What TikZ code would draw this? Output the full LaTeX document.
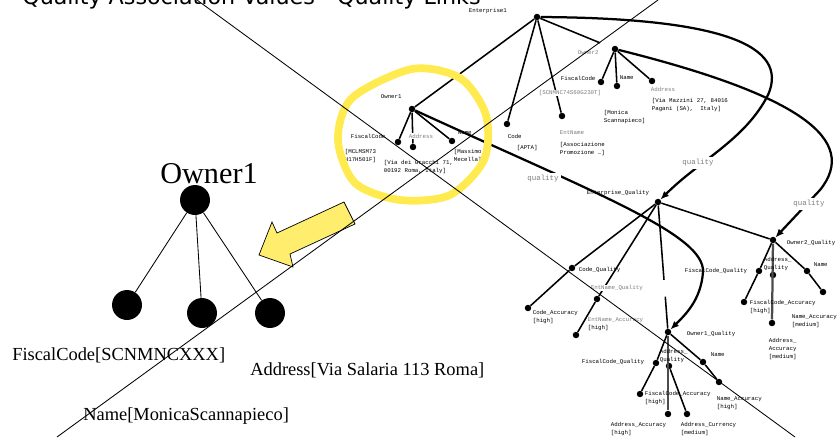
\documentclass[tikz,border=0pt]{standalone}
\usepackage{fontspec}
\setmainfont{Liberation Serif}
\newfontfamily\labfont{Liberation Mono}
\newfontfamily\titlefont{DejaVu Sans}
\usetikzlibrary{arrows.meta}
\definecolor{hiyellow}{RGB}{255,234,80}
\definecolor{arrowyellow}{RGB}{255,238,110}
\definecolor{lblgray}{RGB}{125,125,125}
\newcommand{\tinylab}{\labfont\fontsize{4.1}{5.8}\selectfont}

\begin{document}
\begin{tikzpicture}[x=0.025cm,y=-0.025cm,
  dot/.style={circle,fill=black,inner sep=0pt,minimum size=4.6pt},
  bigdot/.style={circle,fill=black,inner sep=0pt,minimum size=21.3pt},
  lab/.style={font=\tinylab,inner sep=0.4pt,align=left,anchor=west},
  glab/.style={lab,text=lblgray,fill=white},
  qlab/.style={font=\labfont\fontsize{5.3}{6}\selectfont,text=lblgray,fill=white,inner sep=1.8pt},
  edge/.style={line width=1.1pt},
  qlink/.style={line width=1.6pt,-{Latex[length=6pt,width=5pt]}},
  cross/.style={line width=0.6pt},
  big/.style={font=\fontsize{13.1}{15}\selectfont,anchor=base west,inner sep=0pt}]
    \useasboundingbox (0,0) rectangle (838,437);

    % title (cut off)
    \node[font=\titlefont\fontsize{15.8}{18}\selectfont,anchor=base west,inner sep=0pt] (title) at (22,4) {Quality Association Values - Quality Links};

    % data tree
    \node[dot] (ent) at (537,17) {};
    \node[dot] (own1) at (412,109) {};
    \node[dot] (own2) at (615,49) {};
    \node[dot] (code) at (507,124) {};
    \node[dot] (entn) at (562,116) {};
    \node[dot] (fc1) at (398,142) {};
    \node[dot] (ad1) at (413,147) {};
    \node[dot] (nm1) at (452,141) {};
    \node[dot] (fc2) at (601,82) {};
    \node[dot] (nm2) at (617,86) {};
    \node[dot] (ad2) at (652,81) {};

    % quality tree
    \node[dot] (eq) at (658,202) {};
    \node[dot] (cq) at (572,268) {};
    \node[dot] (ca) at (528,308) {};
    \node[dot] (enq) at (597,299) {};
    \node[dot] (ena) at (576,335) {};
    \node[dot] (o1q) at (668,332) {};
    \node[dot] (fq1) at (656,363) {};
    \node[dot] (fa1) at (640,394) {};
    \node[dot] (aq1) at (669,366) {};
    \node[dot] (aa1) at (668,414) {};
    \node[dot] (ac1) at (687,414) {};
    \node[dot] (nq1) at (703,362) {};
    \node[dot] (na1) at (719,382) {};
    \node[dot] (o2q) at (773,240) {};
    \node[dot] (fq2) at (759,271) {};
    \node[dot] (fa2) at (744,302) {};
    \node[dot] (aq2) at (773,275) {};
    \node[dot] (aa2) at (772,323) {};
    \node[dot] (nq2) at (807,271) {};
    \node[dot] (na2) at (823,292) {};

    % Owner1 close-up
    \node[bigdot] (bo) at (195,200) {};
    \node[bigdot] (bfc) at (127,305) {};
    \node[bigdot] (bnm) at (202,313) {};
    \node[bigdot] (bad) at (270,313) {};

    % edges
    \draw[edge] (ent) -- (own1);
    \draw[edge] (ent) -- (code);
    \draw[edge] (ent) -- (entn);
    \draw[edge,shorten >=9pt] (ent) -- (own2);
    \draw[edge] (own1) -- (fc1);
    \draw[edge] (own1) -- (ad1);
    \draw[edge] (own1) -- (nm1);
    \draw[edge] (own2) -- (fc2);
    \draw[edge] (own2) -- (nm2);
    \draw[edge] (own2) -- (ad2);

    \draw[edge] (eq) -- (cq) -- (ca);
    \draw[edge] (eq) -- (enq) -- (ena);
    \draw[edge,dash pattern=on 53pt off 12pt on 80pt] (eq) -- (o1q);
    \draw[edge] (eq) -- (o2q);
    \draw[edge] (o1q) -- (fq1) -- (fa1);
    \draw[line width=1.6pt,black!70] (o1q) -- (aa1);
    \draw[edge] (aq1) -- (ac1);
    \draw[edge] (o1q) -- (nq1) -- (na1);
    \draw[edge] (o2q) -- (fq2) -- (fa2);
    \draw[line width=1.6pt,black!70] (o2q) -- (aa2);
    \draw[edge] (o2q) -- (nq2) -- (na2);

    \draw[cross] (bo) -- (bfc);
    \draw[cross] (bo) -- (bnm);
    \draw[cross] (bo) -- (bad);

    % labels, data tree
    \node[lab] (entl) at (468,11) {Enterprise1};
    \node[lab] (own1l) at (380,97) {Owner1};
    \node[glab] (own2l) at (577,53) {Owner2};
    \node[lab] (fc2l) at (560,78) {FiscalCode};
    \node[lab] (nm2l) at (619,78) {Name};
    \node[glab] (ad2l) at (650,89) {Address};
    \node[lab] (ad2v) at (651,105) {[Via Mazzini 27, 84016\\Pagani (SA),\ \ Italy]};
    \node[lab] (nm2v) at (603,117) {[Monica\\Scannapieco]};
    \node[glab] (fc2v) at (538,93) {[SCNMNC74S60G230T]};
    \node[lab] (codel) at (507,136) {Code};
    \node[lab] (codev) at (516,148) {[APTA]};
    \node[glab] (entnl) at (559,133) {EntName};
    \node[lab] (entnv) at (559,149) {[Associazione\\Promozione …]};
    \node[lab] (fc1l) at (350,136) {FiscalCode};
    \node[glab] (ad1l) at (408,136) {Address};
    \node[lab] (nm1l) at (457,133) {Name};
    \node[lab] (fc1v) at (344,156) {[MCLMSM73\\H17H501F]};
    \node[lab] (ad1v) at (383,167) {[Via dei Gracchi 71,\\00192 Roma, Italy]};
    \node[lab] (nm1v) at (453,156) {[Massimo\\Mecella]};

    % labels, quality tree
    \node[lab] (eql) at (586,193) {Enterprise\_Quality};
    \node[lab] (cql) at (578,270) {Code\_Quality};
    \node[lab] (cal) at (532,317) {Code\_Accuracy\\{}[high]};
    \node[glab] (enql) at (590,288) {EntName\_Quality};
    \node[glab] (enal) at (587,324) {EntName\_Accuracy\\\textcolor{black}{[high]}};
    \node[lab] (o1ql) at (686,334) {Owner1\_Quality};
    \node[lab,anchor=east] (fq1l) at (645,362) {FiscalCode\_Quality};
    \node[lab] (fa1l) at (644,398) {FiscalCode\_Accuracy\\{}[high]};
    \node[lab] (aq1l) at (659,356) {Address\_\\Quality};
    \node[lab] (aa1l) at (610,429) {Address\_Accuracy\\{}[high]};
    \node[lab] (ac1l) at (680,429) {Address\_Currency\\{}[medium]};
    \node[lab] (nq1l) at (710,355) {Name};
    \node[lab] (na1l) at (716,403) {Name\_Accuracy\\{}[high]};
    \node[lab] (o2ql) at (786,243) {Owner2\_Quality};
    \node[lab,anchor=east] (fq2l) at (748,271) {FiscalCode\_Quality};
    \node[lab] (fa2l) at (749,307) {FiscalCode\_Accuracy\\{}[high]};
    \node[lab] (aq2l) at (763,264) {Address\_\\Quality};
    \node[lab] (aa2l) at (768,349) {Address\_\\Accuracy\\{}[medium]};
    \node[lab] (nq2l) at (813,265) {Name};
    \node[lab] (na2l) at (791,321) {Name\_Accuracy\\{}[medium]};

    % quality links
    \draw[qlink] (own1) .. controls (600,195) and (705,235) .. (703,272) .. controls (701,300) and (685,315) .. (o1q);
    \draw[qlink] (ent) .. controls (720,18) and (790,45) .. (768,95) .. controls (745,140) and (700,160) .. (eq);
    \draw[qlink] (own2) .. controls (800,95) and (860,140) .. (820,190) -- (o2q);
    \node[qlab] (q1) at (543,179) {quality};
    \node[qlab] (q2) at (698,163) {quality};
    \node[qlab] (q3) at (809,204) {quality};

    % Owner1 close-up labels
    \node[font=\fontsize{21.5}{24}\selectfont,anchor=base,inner sep=0pt] (bol) at (209,183) {Owner1};
    \node[big] (bfcl) at (12,360) {FiscalCode[SCNMNCXXX]};
    \node[big] (badl) at (250,375) {Address[Via Salaria 113 Roma]};
    \node[big] (bnml) at (83,420) {Name[MonicaScannapieco]};

    % highlight and arrow
    \draw[hiyellow,line width=5.5pt] plot[smooth cycle] coordinates {(412,69) (460,78) (486,115) (484,160) (450,195) (400,200) (355,183) (338,140) (352,98)};
    \filldraw[fill=arrowyellow,draw=black,line width=0.5pt] (259,255) -- (272,222) -- (277,233) -- (344,202) -- (355,224) -- (290,254) -- (293,267) -- cycle;

    % crossing lines
    \coordinate (a1) at (197,0);
    \coordinate (a2) at (795,437);
    \coordinate (b1) at (57,437);
    \coordinate (b2) at (658,0);
    \draw[cross] (a1) -- (a2);
    \draw[cross] (b1) -- (b2);
\end{tikzpicture}
\end{document}
